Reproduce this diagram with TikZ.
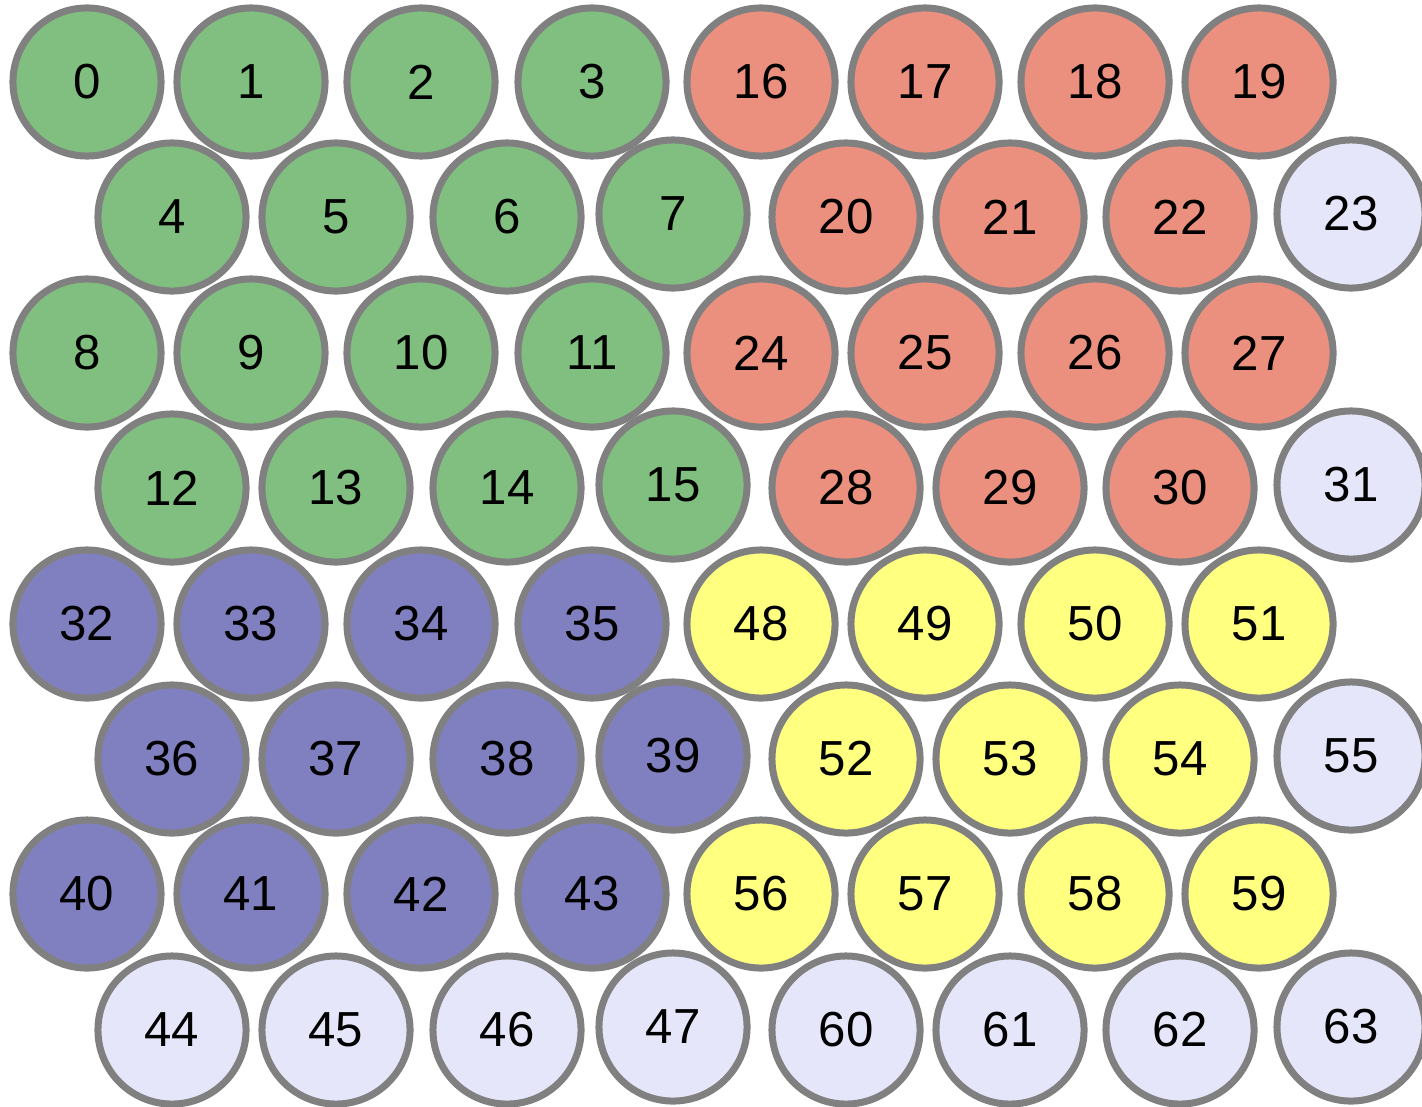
\documentclass[tikz,border=0pt]{standalone}
\usepackage{fontspec}
\setmainfont{Liberation Sans}
\usepackage{xcolor}
\usepackage{tikz}

\definecolor{rimgray}{HTML}{808080}
\definecolor{quadA}{HTML}{80BF80}
\definecolor{quadB}{HTML}{EB907E}
\definecolor{quadC}{HTML}{8080C0}
\definecolor{quadD}{HTML}{FFFF80}
\definecolor{sparecol}{HTML}{E6E6FA}

\tikzset{
    cell/.style={circle, draw=rimgray, line width=0.07cm, minimum size=1.48cm,
        inner sep=0pt, text=black, font=\fontsize{14}{16}\selectfont},
}

\begin{document}
\begin{tikzpicture}[x=0.01cm, y=-0.01cm]
        % 1. Canvas of the reference (pixel units, y pointing down)
        \useasboundingbox (0,0) rectangle (1422,1106);

        % 2. Column centres for even and odd rows
        \def\evenx{{87,251,421,592,761,925,1095,1259}}
        \def\oddx{{172,336,507,673,846,1010,1180,1351}}
        \def\quadfill{{"quadA","quadB","quadC","quadD"}}

        % 3. The 8 x 8 cells: four quadrants of 16, spare cells in lavender
        \foreach \r/\y in {0/82,1/217,2/353,3/488,4/624,5/759,6/894,7/1030} {
            \foreach \c in {0,...,7} {
                \pgfmathtruncatemacro{\q}{2*(\r>3)+(\c>3)}
                \pgfmathtruncatemacro{\lab}{16*\q+4*mod(\r,4)+mod(\c,4)}
                \pgfmathtruncatemacro{\spare}{(\r==7)||(isodd(\r)&&(\c==7))}
                \pgfmathsetmacro{\fc}{\quadfill[\q]}
                \ifodd\r
                    \pgfmathsetmacro{\x}{\oddx[\c]}
                    \pgfmathsetmacro{\yy}{\y-3*(mod(\c,4)==3)}
                \else
                    \pgfmathsetmacro{\x}{\evenx[\c]}
                    \pgfmathsetmacro{\yy}{\y}
                \fi
                \ifnum\spare=1 \def\fc{sparecol}\fi
                \node[cell, fill=\fc] (n\lab) at (\x,\yy) {\lab};
            }
        }
\end{tikzpicture}
\end{document}
